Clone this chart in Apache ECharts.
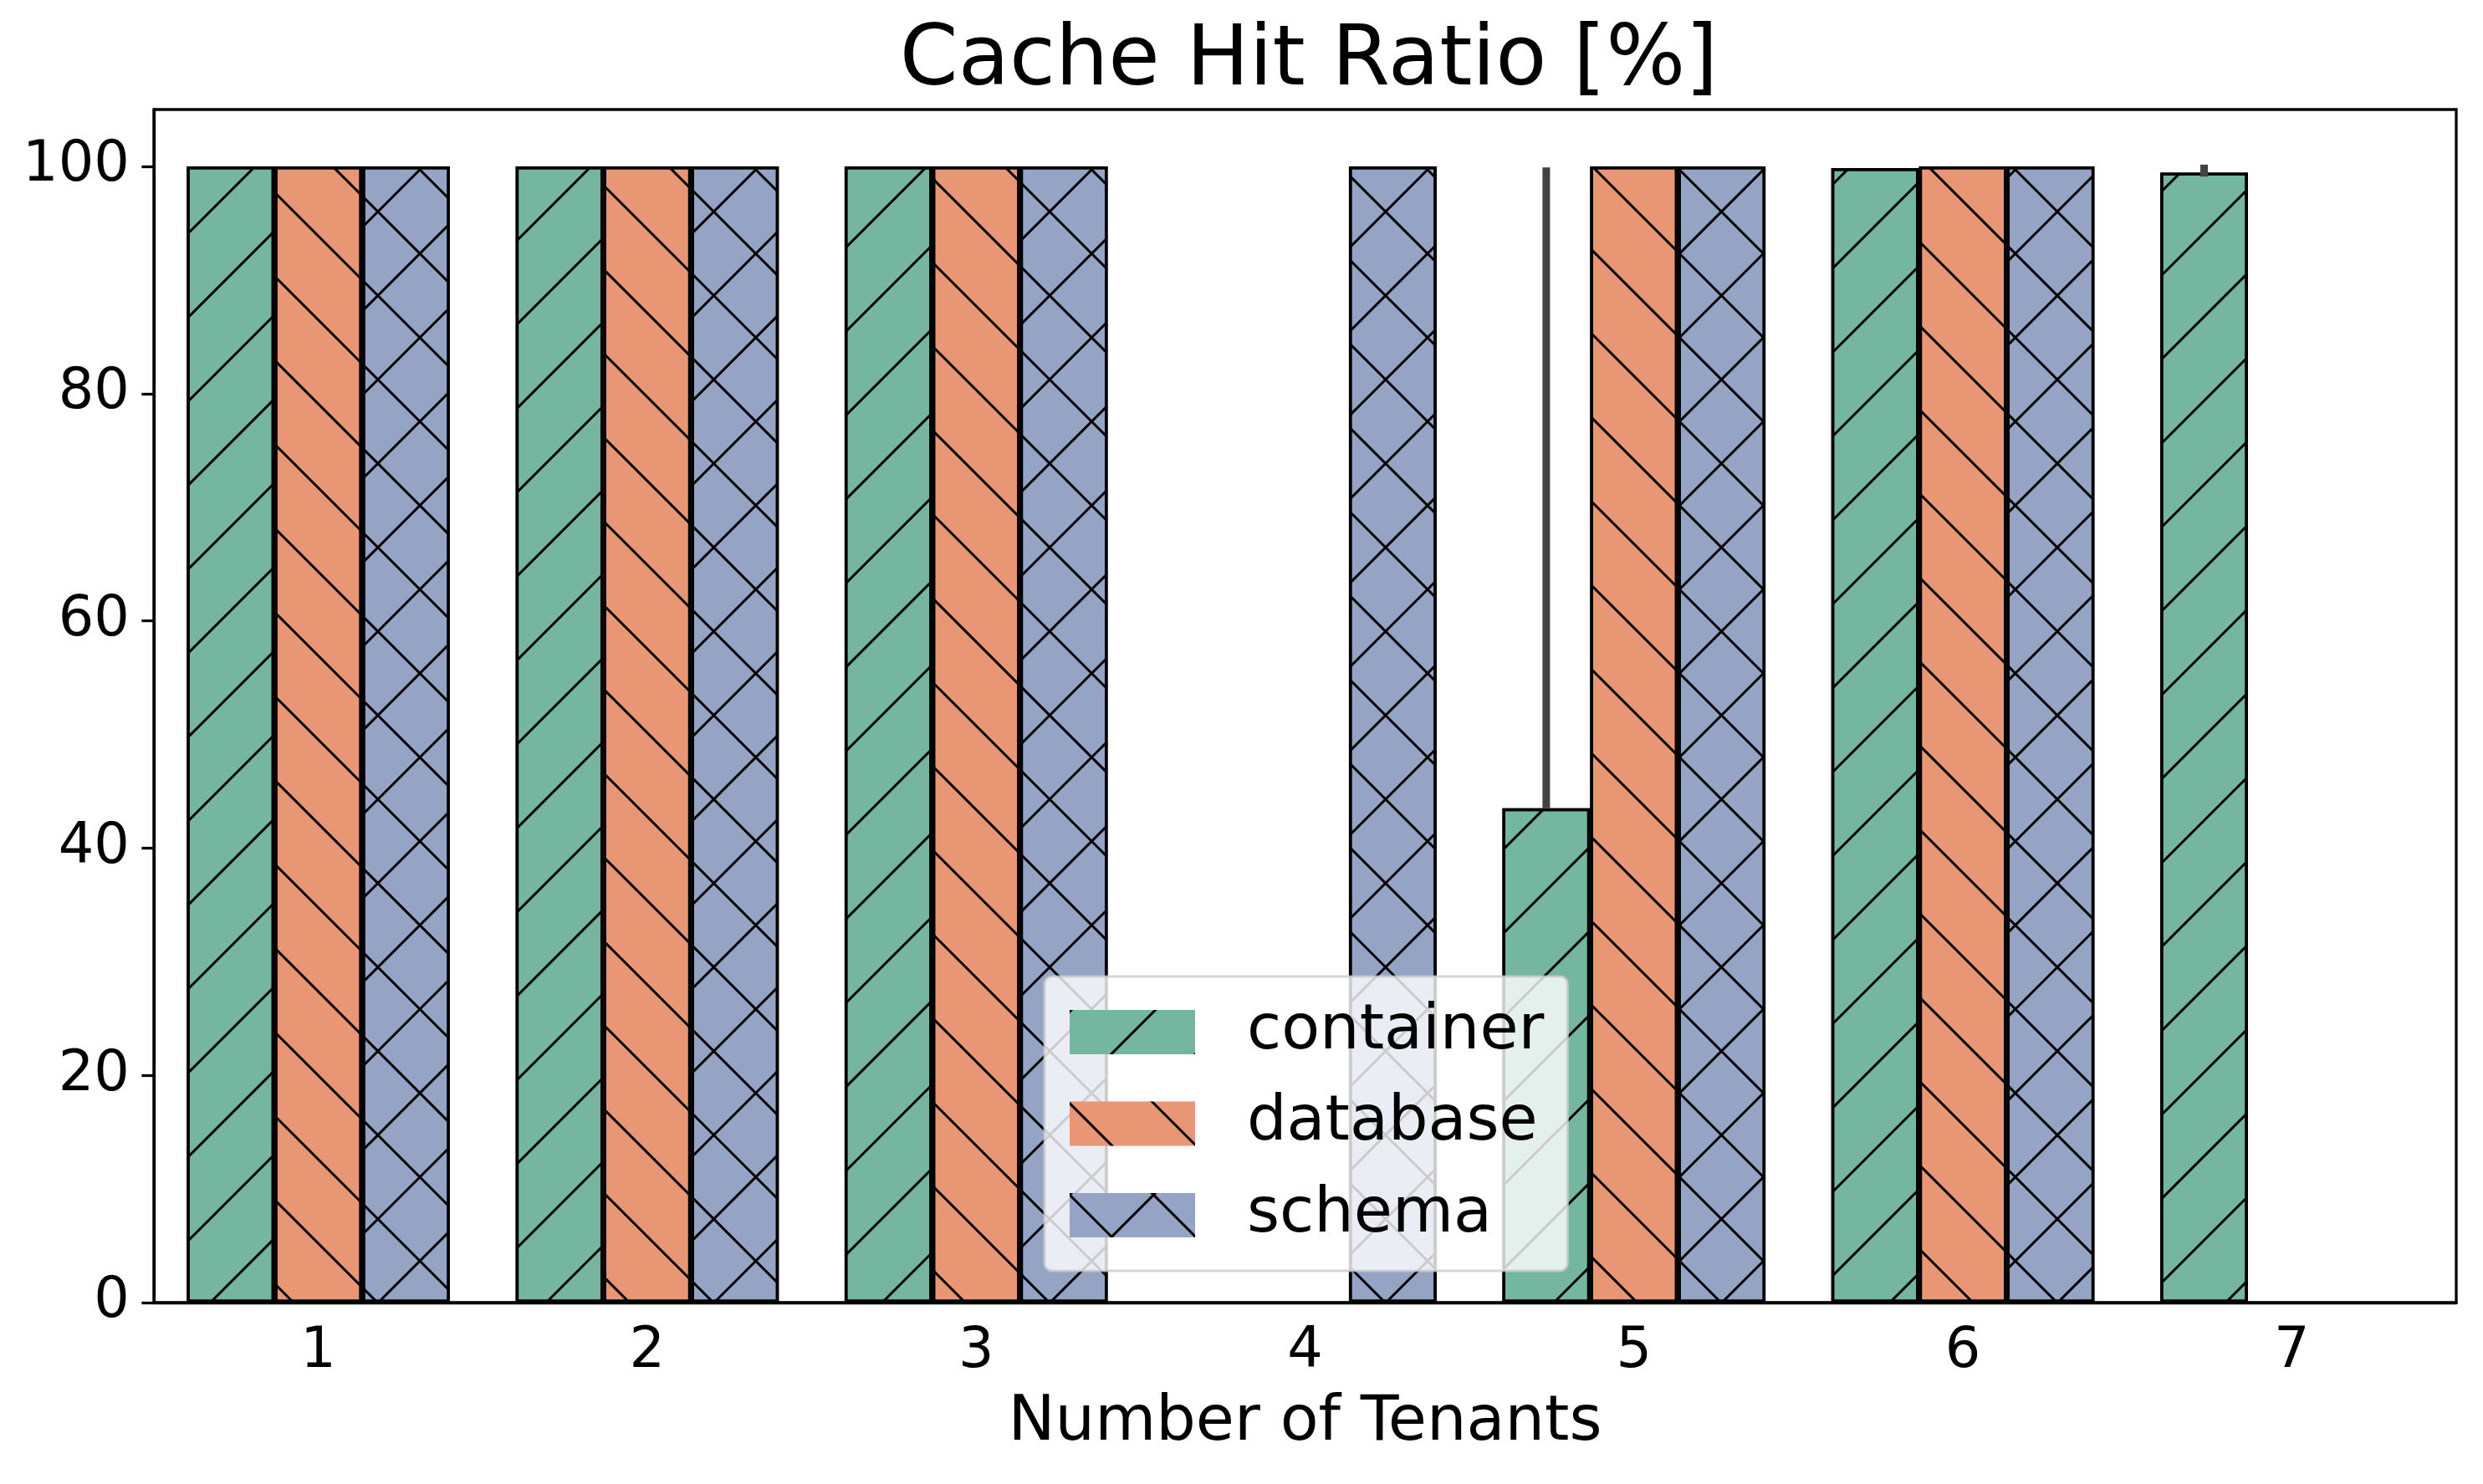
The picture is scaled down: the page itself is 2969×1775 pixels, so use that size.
<!DOCTYPE html>
<html>
<head>
    <meta charset="utf-8">
    <title>Cache Hit Ratio</title>
    <script src="https://cdn.jsdelivr.net/npm/echarts@6/dist/echarts.min.js"></script>
    <style>
        html, body { margin: 0; padding: 0; background: #fff; }
        #chart_main { width: 2969px; height: 1775px; }
    </style>
</head>
<body>
    <div id="chart_main"></div>
    <script>
        // data
        var categories = ['1', '2', '3', '4', '5', '6', '7'];
        var containerVals = [100, 100, 100, null, 43.5, 99.85, 99.45];
        var databaseVals = [100, 100, 100, null, 100, 100, null];
        var schemaVals = [100, 100, 100, 100, 100, 100, null];
        // error bars (only container has visible ones)
        var containerErrLow = [null, null, null, null, 43.5, null, 99.1];
        var containerErrHigh = [null, null, null, null, 99.9, null, 100.15];
        var yTicks = [0, 20, 40, 60, 80, 100];

        var fontName = 'DejaVu Sans';
        var myChart = echarts.init(document.getElementById('chart_main'));

        var errData = [];
        for (var i = 0; i < categories.length; i++) {
            if (containerErrLow[i] != null) {
                errData.push([i, containerErrLow[i], containerErrHigh[i]]);
            }
        }

        // hatch patterns  ( / , \ , x )
        var hatchSlash = {
            symbol: 'rect', symbolSize: 1, symbolKeepAspect: false, color: '#000',
            dashArrayX: [1, 0], dashArrayY: [3, 68], rotation: -Math.PI / 4
        };
        var hatchBack = {
            symbol: 'rect', symbolSize: 1, symbolKeepAspect: false, color: '#000',
            dashArrayX: [1, 0], dashArrayY: [3, 68], rotation: Math.PI / 4
        };
        var hatchCross = {
            symbol: 'rect', symbolSize: 1, symbolKeepAspect: false, color: '#000',
            dashArrayX: [[1, 0], [3, 68]], dashArrayY: [3, 0, 68, 0], rotation: Math.PI / 4
        };

        function barSeries(name, vals, color, decal) {
            return {
                name: name,
                type: 'bar',
                data: vals,
                barGap: '0%',
                barCategoryGap: '20%',
                itemStyle: {
                    color: color,
                    borderColor: '#000',
                    borderWidth: 3.5,
                    decal: decal
                }
            };
        }

        function renderErr(params, api) {
            var band = api.size([1, 0])[0];
            var off = -band * 0.8 / 3;
            var p1 = api.coord([api.value(0), api.value(1)]);
            var p2 = api.coord([api.value(0), api.value(2)]);
            return {
                type: 'line',
                shape: { x1: p1[0] + off, y1: p1[1], x2: p2[0] + off, y2: p2[1] },
                style: { stroke: '#424242', lineWidth: 9 }
            };
        }

        var option = {
            animation: false,
            backgroundColor: '#fff',
            title: {
                text: 'Cache Hit Ratio [%]',
                left: 1560,
                top: 20,
                textAlign: 'center',
                textStyle: { fontFamily: fontName, fontSize: 100, fontWeight: 'normal', color: '#000', lineHeight: 100 }
            },
            grid: {
                left: 184, right: 32, top: 131, bottom: 217,
                show: true, borderColor: '#000', borderWidth: 3.3
            },
            legend: {
                data: ['container', 'database', 'schema'],
                orient: 'vertical',
                left: 1249,
                top: 1168,
                icon: 'rect',
                itemWidth: 150,
                itemHeight: 53,
                itemGap: 34.5,
                padding: [29, 28, 29, 30],
                backgroundColor: 'rgba(255,255,255,0.8)',
                borderColor: 'rgba(204,204,204,0.8)',
                borderWidth: 3,
                borderRadius: 9,
                itemStyle: { borderWidth: 0 },
                textStyle: { fontFamily: fontName, fontSize: 75, color: '#000', padding: [0, 0, 0, 57] }
            },
            xAxis: {
                type: 'category',
                data: categories,
                name: 'Number of Tenants',
                nameLocation: 'middle',
                nameGap: 107,
                nameTextStyle: { fontFamily: fontName, fontSize: 75, color: '#000', lineHeight: 75 },
                axisLine: { lineStyle: { color: '#000', width: 3.3 } },
                axisTick: { alignWithLabel: true, length: 14.6, lineStyle: { color: '#000', width: 3.3 } },
                axisLabel: { fontFamily: fontName, fontSize: 67, color: '#000', margin: 26, lineHeight: 67 }
            },
            yAxis: {
                type: 'value',
                min: 0,
                max: 105,
                interval: 20,
                splitLine: { show: false },
                axisLine: { show: true, lineStyle: { color: '#000', width: 3.3 } },
                axisTick: { show: true, length: 14.6, customValues: yTicks, lineStyle: { color: '#000', width: 3.3 } },
                axisLabel: { fontFamily: fontName, fontSize: 67, color: '#000', margin: 29, customValues: yTicks }
            },
            series: [
                barSeries('container', containerVals, '#74b6a0', hatchSlash),
                barSeries('database', databaseVals, '#e89674', hatchBack),
                barSeries('schema', schemaVals, '#95a4c4', hatchCross),
                {
                    name: 'err',
                    type: 'custom',
                    renderItem: renderErr,
                    encode: { x: 0, y: [1, 2] },
                    data: errData,
                    z: 5
                }
            ]
        };
        myChart.setOption(option);
    </script>
</body>
</html>
